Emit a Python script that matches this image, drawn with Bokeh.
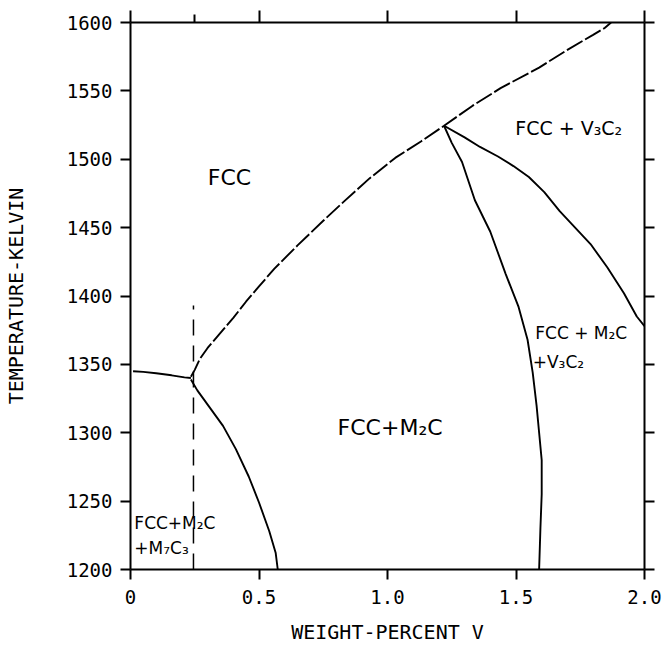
from bokeh.plotting import figure
from bokeh.models import (Range1d, LinearAxis, FixedTicker, CustomJSTickFormatter,
                          ColumnDataSource)
from bokeh.core.properties import value
from bokeh.embed import file_html
from bokeh.resources import INLINE

# --- phase boundaries (weight-percent V, temperature K) ---
# FCC / FCC+M2C and FCC / FCC+V3C2 boundary
fcc_x = [0.235, 0.25, 0.27, 0.30, 0.35, 0.40, 0.45, 0.50, 0.56, 0.65, 0.75, 0.83,
         0.93, 1.03, 1.13, 1.22, 1.33, 1.44, 1.59, 1.70, 1.80, 1.845, 1.87]
fcc_y = [1341, 1346, 1354, 1362, 1373, 1384, 1396, 1407, 1420, 1437, 1455, 1469,
         1486, 1501, 1513, 1524.5, 1539, 1552, 1567, 1580, 1591, 1596, 1600]

# FCC / FCC+M2C+M7C3 boundary at low V
low_x = [0.01, 0.05, 0.10, 0.16, 0.21, 0.235]
low_y = [1345, 1344.5, 1343.5, 1342, 1340.5, 1340]

# FCC+M2C+M7C3 / FCC+M2C boundary
m7_x = [0.235, 0.26, 0.31, 0.36, 0.41, 0.46, 0.50, 0.54, 0.565, 0.573]
m7_y = [1339, 1331, 1318, 1305, 1288, 1268, 1249, 1228, 1212, 1200]

# FCC+M2C / FCC+M2C+V3C2 boundary
m2_x = [1.22, 1.25, 1.29, 1.34, 1.40, 1.46, 1.51, 1.545, 1.565, 1.58, 1.59,
        1.60, 1.60, 1.595, 1.59]
m2_y = [1524.5, 1512, 1498, 1470, 1447, 1416, 1392, 1368, 1344, 1320, 1300,
        1280, 1255, 1230, 1200]

# FCC+V3C2 / FCC+M2C+V3C2 boundary
v3_x = [1.22, 1.30, 1.36, 1.43, 1.49, 1.55, 1.61, 1.67, 1.72, 1.79, 1.855,
        1.92, 1.97, 2.0]
v3_y = [1524.5, 1516, 1509, 1502, 1495, 1487, 1476, 1462, 1452, 1438, 1421,
        1402, 1385, 1378]

# reference composition (dashed)
ref_x = [0.245, 0.245]
ref_y = [1200, 1393]

x_ticks = [0, 0.5, 1.0, 1.5, 2.0]
y_ticks = [1200, 1250, 1300, 1350, 1400, 1450, 1500, 1550, 1600]

# region names
big_labels = ["FCC", "FCC+M\u2082C", "FCC + V\u2083C\u2082"]
small_labels = ["FCC + M\u2082C", "+V\u2083C\u2082", "FCC+M\u2082C", "+M\u2087C\u2083"]

p = figure(width=663, height=646,
           x_range=Range1d(0, 2.0), y_range=Range1d(1200, 1600),
           min_border_left=129, min_border_right=19,
           min_border_top=22, min_border_bottom=77,
           toolbar_location=None, output_backend="svg")
p.outline_line_color = None
p.xgrid.visible = False
p.ygrid.visible = False
p.background_fill_color = "white"
p.border_fill_color = "white"

mono = "DejaVu Sans Mono"

xa = p.xaxis[0]
xa.ticker = FixedTicker(ticks=x_ticks)
xa.formatter = CustomJSTickFormatter(code="return tick == 0 ? '0' : tick.toFixed(1);")
xa.axis_label = "WEIGHT-PERCENT V"
xa.axis_label_standoff = 13

ya = p.yaxis[0]
ya.ticker = FixedTicker(ticks=y_ticks)
ya.axis_label = "TEMPERATURE-KELVIN"
ya.axis_label_standoff = 36

for ax in (xa, ya):
    ax.axis_line_width = 2
    ax.axis_line_color = "black"
    ax.major_tick_line_width = 2
    ax.major_tick_out = 10
    ax.major_tick_in = 0
    ax.minor_tick_line_color = None
    ax.major_label_text_font = mono
    ax.major_label_text_font_size = "19px"
    ax.major_label_text_color = "black"
    ax.major_label_standoff = 8
    ax.axis_label_text_font = mono
    ax.axis_label_text_font_size = "20px"
    ax.axis_label_text_font_style = "normal"
    ax.axis_label_text_color = "black"
xa.major_label_standoff = 10

top = LinearAxis(ticker=FixedTicker(ticks=x_ticks, minor_ticks=[0.25]))
top.major_tick_out = 12
top.major_tick_in = 0
top.minor_tick_out = 8
top.minor_tick_in = 0
top.minor_tick_line_width = 2
right = LinearAxis(ticker=FixedTicker(ticks=y_ticks))
right.major_tick_out = 10
right.major_tick_in = 0
right.minor_tick_line_color = None
for ax in (top, right):
    ax.axis_line_width = 2
    ax.major_tick_line_width = 2
    ax.major_label_text_color = None
    ax.major_label_text_font_size = "0px"
    ax.major_label_standoff = 0
p.add_layout(top, "above")
p.add_layout(right, "right")

lw = 1.9
p.line(fcc_x, fcc_y, line_color="black", line_width=lw, line_dash="18 3")
p.line(low_x, low_y, line_color="black", line_width=lw)
p.line(m7_x, m7_y, line_color="black", line_width=lw)
p.line(m2_x, m2_y, line_color="black", line_width=lw)
p.line(v3_x, v3_y, line_color="black", line_width=lw)
p.line(ref_x, ref_y, line_color="black", line_width=1.5, line_dash="16 10")

sans = value("DejaVu Sans")
big = ColumnDataSource(dict(x=[0.385, 1.01, 1.705], y=[1487, 1304, 1523],
                            t=big_labels, s=["22px", "22px", "19px"]))
p.text(x="x", y="y", text="t", source=big, text_font=sans, text_font_size="s",
       text_align="center", text_baseline="middle", text_color="black")

small = ColumnDataSource(dict(x=[1.575, 1.565, 0.015, 0.015], y=[1373, 1352, 1234, 1216],
                              t=small_labels))
p.text(x="x", y="y", text="t", source=small, text_font=sans, text_font_size="17px",
       text_align="left", text_baseline="middle", text_color="black")

open("out.html", "w").write(file_html(p, INLINE))
